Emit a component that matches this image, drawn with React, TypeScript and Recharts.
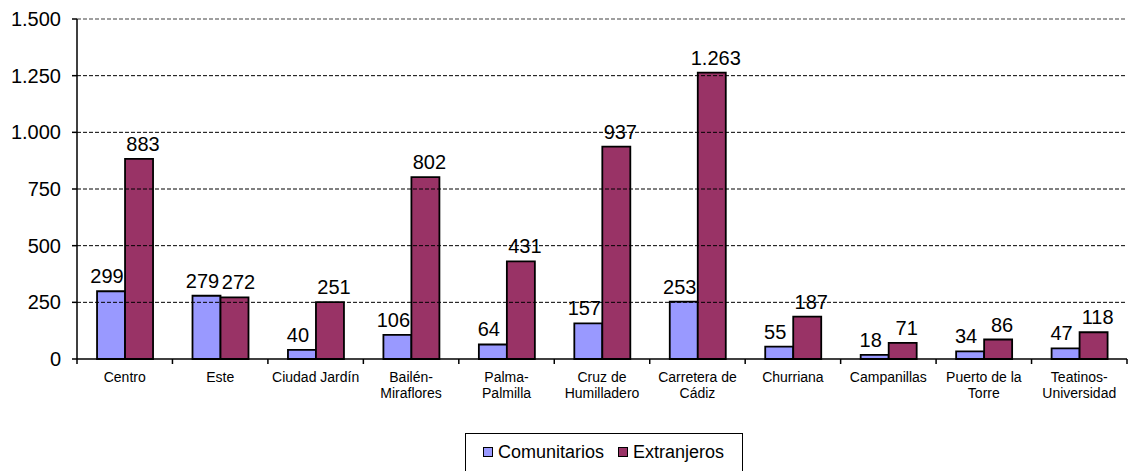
import React from 'react';
import { BarChart, Bar, XAxis, YAxis, ReferenceLine, LabelList } from 'recharts';

const categories = [
  'Centro',
  'Este',
  'Ciudad Jardín',
  'Bailén-\nMiraflores',
  'Palma-\nPalmilla',
  'Cruz de\nHumilladero',
  'Carretera de\nCádiz',
  'Churriana',
  'Campanillas',
  'Puerto de la\nTorre',
  'Teatinos-\nUniversidad',
];
const comunitarios = [299, 279, 40, 106, 64, 157, 253, 55, 18, 34, 47];
const extranjeros = [883, 272, 251, 802, 431, 937, 1263, 187, 71, 86, 118];
const yTicks = [0, 250, 500, 750, 1000, 1250, 1500];
const gridValues = [250, 500, 750, 1000, 1250];
const seriesNames = ['Comunitarios', 'Extranjeros'];

const data = categories.map((c, i) => ({
  name: c,
  comunitarios: comunitarios[i],
  extranjeros: extranjeros[i],
}));

const FONT = '"Liberation Sans", Arial, sans-serif';
const COLORS = ['#9999FF', '#993366'];
const W = 1128;
const H = 471;
const MARGIN = { top: 19, right: 1, left: 0, bottom: 0 };
const Y_W = 77;
const PLOT_W = W - MARGIN.left - MARGIN.right - Y_W;
const BAND = PLOT_W / categories.length;

const fmt = (v: any) => String(v).replace(/\B(?=(\d{3})+(?!\d))/g, '.');

const XTick = (props: any) => {
  const { x, y, payload, index } = props;
  const lines = String(payload.value).split('\n');
  const isLast = index === categories.length - 1;
  return (
    <g>
      <line x1={x - BAND / 2} x2={x - BAND / 2} y1={y} y2={y + 5} stroke="#000" strokeWidth={1.5} />
      {isLast && (
        <line x1={x + BAND / 2} x2={x + BAND / 2} y1={y} y2={y + 5} stroke="#000" strokeWidth={1.5} />
      )}
      {lines.map((l, i) => (
        <text
          key={i}
          x={x}
          y={y + 23 + i * 16}
          textAnchor="middle"
          fontSize={14}
          fontFamily={FONT}
          fill="#000"
        >
          {l}
        </text>
      ))}
    </g>
  );
};

const makeLabel = (dx: number) => (props: any) => {
  const { x, y, width, value } = props;
  return (
    <text
      x={x + width / 2 + dx}
      y={y - 8}
      textAnchor="middle"
      fontSize={20}
      fontFamily={FONT}
      fill="#000"
    >
      {fmt(value)}
    </text>
  );
};

const LabelLeft = makeLabel(-4);
const LabelRight = makeLabel(4);

export default function App() {
  return (
    <div style={{ position: 'absolute', left: 0, top: 0, width: W, height: H, background: '#fff', fontFamily: FONT }}>
      <BarChart
        width={W}
        height={H}
        data={data}
        margin={MARGIN}
        barCategoryGap="21%"
        barGap={0}
      >
        {gridValues.map((v) => (
          <ReferenceLine key={v} y={v} stroke="#000" strokeDasharray="4 2" strokeWidth={1} />
        ))}
        <ReferenceLine y={1500} stroke="#808080" strokeDasharray="4 2" strokeWidth={1.5} />
        <XAxis
          dataKey="name"
          interval={0}
          tickLine={false}
          tickSize={0}
          tickMargin={0}
          height={112}
          axisLine={{ stroke: '#000', strokeWidth: 1.5 }}
          tick={<XTick />}
        />
        <YAxis
          width={Y_W}
          domain={[0, 1500]}
          ticks={yTicks}
          interval={0}
          tickFormatter={fmt}
          tickSize={5}
          tickMargin={11}
          axisLine={{ stroke: '#000', strokeWidth: 1.5 }}
          tickLine={{ stroke: '#000', strokeWidth: 1.5 }}
          tick={{ fontSize: 20, fill: '#000', fontFamily: FONT }}
        />
        <YAxis
          yAxisId="right"
          orientation="right"
          width={0}
          domain={[0, 1500]}
          tick={false}
          tickLine={false}
          axisLine={{ stroke: '#808080', strokeWidth: 1.5 }}
        />
        <Bar dataKey="comunitarios" fill={COLORS[0]} stroke="#000" strokeWidth={1.8} isAnimationActive={false}>
          <LabelList dataKey="comunitarios" content={<LabelLeft />} />
        </Bar>
        <Bar dataKey="extranjeros" fill={COLORS[1]} stroke="#000" strokeWidth={1.8} isAnimationActive={false}>
          <LabelList dataKey="extranjeros" content={<LabelRight />} />
        </Bar>
      </BarChart>
      <div
        style={{
          position: 'absolute',
          left: 465,
          top: 433,
          width: 278,
          height: 40,
          border: '1.5px solid #000',
          boxSizing: 'border-box',
          background: '#fff',
          display: 'flex',
          alignItems: 'center',
          paddingLeft: 17,
          paddingBottom: 2,
        }}
      >
        {seriesNames.map((n, i) => (
          <div key={n} style={{ display: 'flex', alignItems: 'center', marginRight: 14 }}>
            <span
              style={{
                display: 'inline-block',
                width: 10,
                height: 10,
                border: '1.5px solid #000',
                background: COLORS[i],
                boxSizing: 'border-box',
                marginRight: 5,
              }}
            />
            <span style={{ fontSize: 18, color: '#000', fontFamily: FONT }}>{n}</span>
          </div>
        ))}
      </div>
    </div>
  );
}
